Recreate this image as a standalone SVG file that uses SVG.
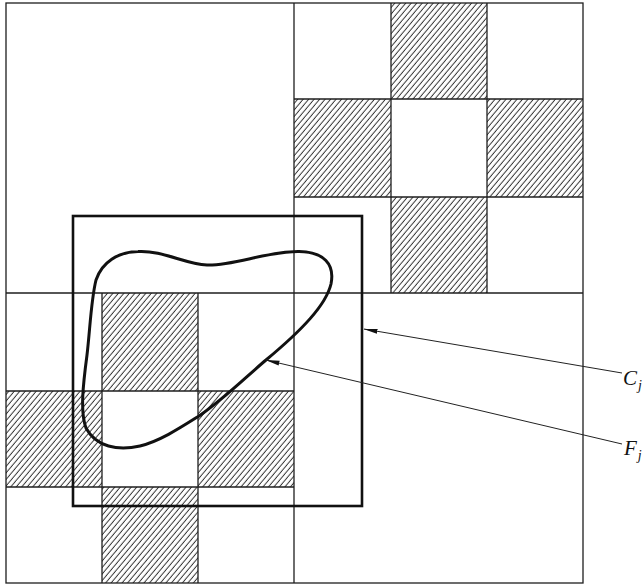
<svg xmlns="http://www.w3.org/2000/svg" width="643" height="586" viewBox="0 0 643 586">
<defs>
<pattern id="hatch" patternUnits="userSpaceOnUse" width="4.2" height="10" patternTransform="rotate(40)">
<line x1="2" y1="0" x2="2" y2="10" stroke="#222" stroke-width="0.9"/>
</pattern>
<marker id="arr" viewBox="0 0 14 6" refX="0.5" refY="3" markerWidth="14" markerHeight="6" markerUnits="userSpaceOnUse" orient="auto">
<path d="M0,3 L14,0.6 L14,5.4 Z" fill="#111"/>
</marker>
</defs>
<style>
.grid{stroke:#1e1e1e;stroke-width:1.3;fill:none}
.hatch{fill:url(#hatch);stroke:none}
.thick{stroke:#111;stroke-width:2.6;fill:none}
.blob{stroke:#111;stroke-width:3;fill:none;stroke-linejoin:round}
.lead{stroke:#222;stroke-width:1;fill:none}
.lbl{font-family:"Liberation Serif",serif;font-style:italic;font-size:21px;fill:#111}
.sub{font-family:"Liberation Serif",serif;font-style:italic;font-size:14px;fill:#111}
</style>
<rect width="643" height="586" fill="#fff"/>
<g id="upper-right-cells">
<rect class="hatch" x="391" y="3" width="96" height="96"/>
<rect class="hatch" x="294" y="99" width="97" height="98"/>
<rect class="hatch" x="487" y="99" width="96" height="98"/>
<rect class="hatch" x="391" y="197" width="96" height="96"/>
</g>
<g id="lower-left-cells">
<rect class="hatch" x="102" y="293" width="96" height="98"/>
<rect class="hatch" x="6" y="391" width="96" height="96"/>
<rect class="hatch" x="198" y="391" width="96" height="96"/>
<rect class="hatch" x="102" y="487" width="96" height="96"/>
</g>
<g id="grid">
<rect class="grid" x="6" y="3" width="577" height="580"/>
<line class="grid" x1="294" y1="3" x2="294" y2="583"/>
<line class="grid" x1="6" y1="293" x2="583" y2="293"/>
<line class="grid" x1="391" y1="3" x2="391" y2="293"/>
<line class="grid" x1="487" y1="3" x2="487" y2="293"/>
<line class="grid" x1="294" y1="99" x2="583" y2="99"/>
<line class="grid" x1="294" y1="197" x2="583" y2="197"/>
<line class="grid" x1="102" y1="293" x2="102" y2="583"/>
<line class="grid" x1="198" y1="293" x2="198" y2="583"/>
<line class="grid" x1="6" y1="391" x2="294" y2="391"/>
<line class="grid" x1="6" y1="487" x2="294" y2="487"/>
</g>
<g id="Cj">
<rect class="thick" x="73" y="216" width="289" height="290"/>
</g>
<g id="Fj">
<path class="blob" d="M138,251.5 C162,250 185,264 207,265 C233,266 268,251 299,251.5 C324,252 335,264 331,284 C326,305 302,330 266,360 C248,375 225,398 199,416 C180,428 160,441 140,446 C118,451 96,447 86,428 C80,412 83,385 87,355 C90,330 91,300 96,280 C102,262 118,252 138,251.5 Z"/>
</g>
<g id="connectors">
<line class="lead" x1="364" y1="329" x2="622" y2="373" marker-start="url(#arr)"/>
<line class="lead" x1="266" y1="360" x2="622" y2="444" marker-start="url(#arr)"/>
</g>
<g id="labels">
<text class="lbl" x="623" y="385">C<tspan class="sub" dx="1" dy="5">j</tspan></text>
<text class="lbl" x="624" y="455">F<tspan class="sub" dx="1" dy="5">j</tspan></text>
</g>
</svg>
